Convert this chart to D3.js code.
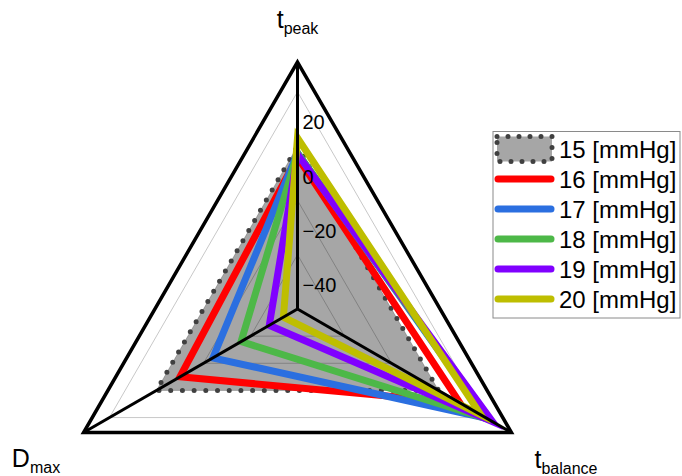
<!DOCTYPE html>
<html>
<head>
<meta charset="utf-8">
<script src="https://cdn.jsdelivr.net/npm/d3@7"></script>
<style>
  html, body { margin: 0; padding: 0; background: #fff; }
  svg { display: block; font-family: "Liberation Sans", Arial, sans-serif; }
</style>
</head>
<body>
<svg id="chart" width="682" height="476"></svg>
<script>
// Radar axes (clockwise from top) and their labels: main letter + subscript
const axisMain = ["t", "t", "D"];
const axisSub = ["peak", "balance", "max"];
const axisAngles = [-90, 30, 150];

// Series: chamber pressure, values per axis (t_peak, t_balance, D_max)
const pressures = ["15 [mmHg]", "16 [mmHg]", "17 [mmHg]", "18 [mmHg]", "19 [mmHg]", "20 [mmHg]"];
const tPeak    = [0, -4, -2.5, -2.5, -3, 3];
const tBalance = [0, 9, 20.5, 21.5, 23, 18];
const dMax     = [0, -10, -24, -36, -48, -54];
const colors = ["#a6a6a6", "#ff0000", "#2b6fe0", "#4db848", "#8000ff", "#bebe00"];

// Radial ticks
const gridLevels = [-40, -20, 0, 20];
const tickLabels = [20, 0, -20, -40];

const svg = d3.select("#chart");
const cx = 297.5, cy = 309, R = 247;
const r = d3.scaleLinear().domain([-60, 31]).range([0, R]);
const rad = a => a * Math.PI / 180;
const pt = (ai, rr) => [cx + rr * Math.cos(rad(axisAngles[ai])), cy + rr * Math.sin(rad(axisAngles[ai]))];
const closed = d3.line().curve(d3.curveLinearClosed);

// Series rows
const series = pressures.map((p, i) => ({ name: p, color: colors[i], vals: [tPeak[i], tBalance[i], dMax[i]] }));
const polyPts = s => s.vals.map((v, ai) => pt(ai, r(v)));

// Reference series: filled gray with dotted outline
const ref = series[0];
svg.append("path").attr("d", closed(polyPts(ref)))
  .attr("fill", ref.color).attr("stroke", "none");

// Grid triangles (semi-transparent so they show on the fill)
svg.append("g").selectAll("path").data(gridLevels).join("path")
  .attr("d", v => closed([0, 1, 2].map(ai => pt(ai, r(v)))))
  .attr("fill", "none").attr("stroke", "#000").attr("stroke-opacity", 0.22).attr("stroke-width", 1);

svg.append("path").attr("d", closed(polyPts(ref)))
  .attr("fill", "none").attr("stroke", "#404040").attr("stroke-width", 5)
  .attr("stroke-linecap", "round").attr("stroke-dasharray", "0 11.7");

// Other series as thick outlines
svg.append("g").selectAll("path").data(series.slice(1)).join("path")
  .attr("d", s => closed(polyPts(s)))
  .attr("fill", "none").attr("stroke", s => s.color).attr("stroke-width", 7)
  .attr("stroke-linejoin", "miter");

// Outer frame and spokes
svg.append("path").attr("d", closed([0, 1, 2].map(ai => pt(ai, R))))
  .attr("fill", "none").attr("stroke", "#000").attr("stroke-width", 3.5).attr("stroke-linejoin", "miter");
svg.append("g").selectAll("line").data([0, 1, 2]).join("line")
  .attr("x1", cx).attr("y1", cy)
  .attr("x2", ai => pt(ai, R)[0]).attr("y2", ai => pt(ai, R)[1])
  .attr("stroke", "#000").attr("stroke-width", 3);

// Tick labels along the top spoke
const fmt = d3.format("d");
svg.append("g").selectAll("text").data(tickLabels).join("text")
  .attr("x", cx + 5).attr("y", v => cy - r(v) + 37.5)
  .attr("font-size", 20).attr("fill", "#000")
  .text(v => fmt(v));

// Axis titles
const titlePos = [[cx, 28], [566, 468], [36, 467]];
const titles = svg.append("g").selectAll("text").data([0, 1, 2]).join("text")
  .attr("x", ai => titlePos[ai][0]).attr("y", ai => titlePos[ai][1])
  .attr("text-anchor", "middle").attr("fill", "#000");
titles.append("tspan").attr("font-size", 25).text(ai => axisMain[ai]);
titles.append("tspan").attr("font-size", 16).attr("dy", 6).text(ai => axisSub[ai]);

// Legend
const lg = svg.append("g");
lg.append("rect").attr("x", 493).attr("y", 131.5).attr("width", 187).attr("height", 186.5)
  .attr("fill", "#fff").attr("stroke", "#8a8a8a").attr("stroke-width", 1);
const rows = lg.selectAll("g").data(series).join("g")
  .attr("transform", (d, i) => `translate(0, ${149 + i * 30})`);
rows.filter((d, i) => i === 0).append("rect")
  .attr("x", 497).attr("y", -12.5).attr("width", 55).attr("height", 25)
  .attr("fill", d => d.color).attr("stroke", "#404040").attr("stroke-width", 5)
  .attr("stroke-linecap", "round").attr("stroke-dasharray", "0 11");
rows.filter((d, i) => i > 0).append("line")
  .attr("x1", 498).attr("x2", 551).attr("y1", 0).attr("y2", 0)
  .attr("stroke", d => d.color).attr("stroke-width", 7).attr("stroke-linecap", "round");
rows.append("text").attr("x", 559).attr("y", 9).attr("font-size", 24).attr("fill", "#000")
  .text(d => d.name);
</script>
</body>
</html>
